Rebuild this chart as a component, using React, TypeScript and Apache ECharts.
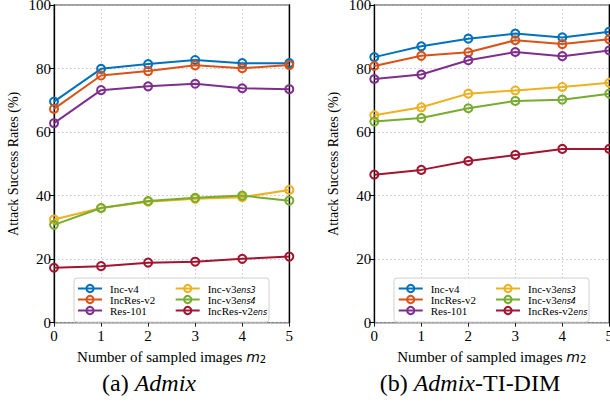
import React, { useEffect, useRef } from 'react';
import * as echarts from 'echarts';

const xValues = [0, 1, 2, 3, 4, 5];
const seriesNames = ['Inc-v4', 'IncRes-v2', 'Res-101', 'Inc-v3ens3', 'Inc-v3ens4', 'IncRes-v2ens'];
const seriesColors = ['#0072BD', '#D95319', '#7E2F8E', '#EDB120', '#77AC30', '#A2142F'];

// (a) Admix
const admixIncV4 = [69.6, 79.9, 81.4, 82.7, 81.7, 81.7];
const admixIncResV2 = [67.3, 77.8, 79.2, 81.0, 80.1, 81.1];
const admixRes101 = [62.8, 73.2, 74.4, 75.2, 73.8, 73.5];
const admixIncV3ens3 = [32.5, 36.1, 38.1, 39.0, 39.5, 41.8];
const admixIncV3ens4 = [30.8, 36.1, 38.3, 39.3, 40.0, 38.4];
const admixIncResV2ens = [17.3, 17.8, 18.9, 19.2, 20.1, 20.8];

// (b) Admix-TI-DIM
const tidimIncV4 = [83.6, 87.0, 89.4, 91.0, 89.8, 91.6];
const tidimIncResV2 = [80.8, 84.0, 85.1, 88.9, 87.7, 89.2];
const tidimRes101 = [76.7, 78.1, 82.6, 85.2, 83.9, 85.7];
const tidimIncV3ens3 = [65.3, 67.8, 72.1, 73.1, 74.2, 75.5];
const tidimIncV3ens4 = [63.3, 64.4, 67.5, 69.8, 70.2, 72.1];
const tidimIncResV2ens = [46.6, 48.1, 50.9, 52.8, 54.7, 54.7];

const yTicks = [0, 20, 40, 60, 80, 100];
const xAxisTitle = 'Number of sampled images ';
const yAxisTitle = 'Attack Success Rates (%)';

const admixData = [admixIncV4, admixIncResV2, admixRes101, admixIncV3ens3, admixIncV3ens4, admixIncResV2ens];
const tidimData = [tidimIncV4, tidimIncResV2, tidimRes101, tidimIncV3ens3, tidimIncV3ens4, tidimIncResV2ens];

const SERIF = 'Liberation Serif';
const SANS = 'DejaVu Sans';

const legendLabel = (name: string) => {
  if (name === 'Inc-v3ens3') return '{n|Inc-v3}{s|ens3}';
  if (name === 'Inc-v3ens4') return '{n|Inc-v3}{s|ens4}';
  if (name === 'IncRes-v2ens') return '{n|IncRes-v2}{s|ens}';
  return '{n|' + name + '}';
};

export default function App() {
  const ref = useRef<HTMLDivElement>(null);
  useEffect(() => {
    if (!ref.current) return;
    const chart = echarts.init(ref.current, undefined, { renderer: 'svg' });

    const grids = [
      { left: 54, top: 5, width: 235.3, height: 317.7 },
      { left: 374.3, top: 5, width: 235, height: 317.7 },
    ];

    const xAxes: any[] = [];
    const yAxes: any[] = [];
    grids.forEach((_, gi) => {
      xAxes.push({
        gridIndex: gi,
        type: 'value',
        min: 0,
        max: 5,
        interval: 1,
        axisLine: { show: false },
        axisTick: { show: true, length: 4, lineStyle: { color: '#222', width: 1 } },
        axisLabel: { margin: 6, fontSize: 15, color: '#000', fontFamily: SERIF, hideOverlap: false },
        splitLine: { show: true, lineStyle: { type: [1.5, 2.5], color: '#b8b8b8', width: 0.8 } },
        name: '{a|' + xAxisTitle + '}{m|m}{s|2}',
        nameLocation: 'middle',
        nameGap: 17,
        nameTextStyle: {
          fontFamily: SERIF,
          rich: {
            a: { fontFamily: SERIF, fontSize: 15, color: '#000', lineHeight: 18 },
            m: { fontFamily: SANS, fontStyle: 'italic', fontSize: 14, color: '#000', lineHeight: 18 },
            s: { fontFamily: SANS, fontSize: 10, color: '#000', lineHeight: 18, padding: [6, 0, 0, 0] },
          },
        },
      });
      yAxes.push({
        gridIndex: gi,
        type: 'value',
        min: yTicks[0],
        max: yTicks[yTicks.length - 1],
        interval: 20,
        position: 'left',
        axisLine: { show: true, lineStyle: { color: '#000', width: 1.3 } },
        axisTick: { show: true, length: 5, lineStyle: { color: '#000', width: 1 } },
        axisLabel: { margin: 3, fontSize: 15, color: '#000', fontFamily: SERIF },
        splitLine: { show: true, lineStyle: { type: [1.5, 2.5], color: '#b8b8b8', width: 0.8 } },
        name: yAxisTitle,
        nameLocation: 'middle',
        nameGap: 34,
        nameRotate: 90,
        nameTextStyle: { fontFamily: SERIF, fontSize: 14, color: '#000' },
      });
      yAxes.push({
        gridIndex: gi,
        type: 'value',
        min: 0,
        max: 100,
        interval: 20,
        position: 'right',
        axisLine: { show: true, lineStyle: { color: '#000', width: 1.3 } },
        axisTick: { show: false },
        axisLabel: { show: false },
        splitLine: { show: false },
      });
    });

    const series: any[] = [];
    [admixData, tidimData].forEach((group, gi) => {
      group.forEach((arr, si) => {
        const c = seriesColors[si];
        series.push({
          type: 'line',
          name: seriesNames[si],
          xAxisIndex: gi,
          yAxisIndex: gi * 2,
          data: xValues.map((x, i) => [x, arr[i]]),
          color: c,
          symbol: 'circle',
          symbolSize: 8,
          clip: false,
          lineStyle: { color: c, width: 2 },
          itemStyle: { color: 'rgba(255,255,255,0)', borderColor: c, borderWidth: 2 },
          emphasis: { disabled: true },
          z: 2 + si * 0.01,
        });
      });
    });

    const legendText = {
      fontFamily: SERIF,
      fontSize: 11,
      color: '#000',
      padding: [0, 0, 0, 3],
      rich: {
        n: { fontFamily: SERIF, fontSize: 11, color: '#000', lineHeight: 9.5 },
        s: { fontFamily: SANS, fontStyle: 'italic', fontSize: 8, color: '#000', lineHeight: 9.5, padding: [3, 0, 0, 0] },
      },
    };
    const mkLegend = (left: number, data: string[]) => ({
      orient: 'vertical',
      left,
      top: 283,
      padding: 0,
      itemWidth: 24,
      itemHeight: 9,
      itemGap: 0,
      selectedMode: false,
      data,
      formatter: legendLabel,
      textStyle: legendText,
      z: 5,
    });
    const col1 = seriesNames.slice(0, 3);
    const col2 = seriesNames.slice(3);

    chart.setOption({
      animation: false,
      backgroundColor: '#fff',
      grid: grids.map((g) => ({
        ...g,
        show: true,
        borderColor: '#808080',
        borderWidth: 1.5,
        backgroundColor: 'transparent',
        containLabel: false,
        outerBoundsMode: 'none',
      })),
      xAxis: xAxes,
      yAxis: yAxes,
      legend: [mkLegend(77, col1), mkLegend(174.7, col2), mkLegend(397.7, col1), mkLegend(495, col2)],
      series,
      graphic: [
        {
          type: 'rect',
          z: 3,
          shape: { x: 74, y: 278, width: 195, height: 44, r: 3 },
          style: { fill: 'rgba(255,255,255,0.8)', stroke: '#d0d0d0', lineWidth: 1 },
        },
        {
          type: 'rect',
          z: 3,
          shape: { x: 394, y: 278, width: 195, height: 44, r: 3 },
          style: { fill: 'rgba(255,255,255,0.8)', stroke: '#d0d0d0', lineWidth: 1 },
        },
        {
          type: 'text',
          z: 5,
          x: 149,
          y: 383,
          style: {
            text: '{n|(a) }{i|Admix}',
            align: 'center',
            verticalAlign: 'middle',
            rich: {
              n: { fontFamily: SERIF, fontSize: 24, fill: '#000' },
              i: { fontFamily: SERIF, fontStyle: 'italic', fontSize: 24, fill: '#000' },
            },
          },
        },
        {
          type: 'text',
          z: 5,
          x: 470,
          y: 383,
          style: {
            text: '{n|(b) }{i|Admix}{n|-TI-DIM}',
            align: 'center',
            verticalAlign: 'middle',
            rich: {
              n: { fontFamily: SERIF, fontSize: 24, fill: '#000' },
              i: { fontFamily: SERIF, fontStyle: 'italic', fontSize: 24, fill: '#000' },
            },
          },
        },
      ],
    });
    return () => chart.dispose();
  }, []);
  return (
    <div
      ref={ref}
      style={{ position: 'fixed', left: 0, top: 0, width: 610, height: 402, background: '#fff' }}
    />
  );
}
